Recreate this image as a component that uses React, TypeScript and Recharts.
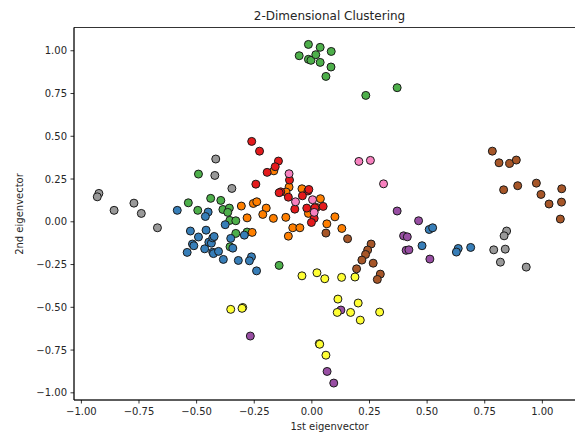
import { ScatterChart, Scatter, XAxis, YAxis, ReferenceArea } from "recharts";

type Pt = [number, number];

const xTicks = [-1, -0.75, -0.5, -0.25, 0, 0.25, 0.5, 0.75, 1];
const yTicks = [-1, -0.75, -0.5, -0.25, 0, 0.25, 0.5, 0.75, 1];
const xDomain: [number, number] = [-1.032, 1.185];
const yDomain: [number, number] = [-1.042, 1.136];

const greenPts: Pt[] = [
  [-0.015, 1.037], [0.036, 1.02], [-0.055, 0.971], [0.084, 0.996], [-0.015, 0.95],
  [-0.004, 0.944], [0.017, 0.977], [0.036, 0.932], [0.083, 0.905], [0.061, 0.85],
  [0.234, 0.739], [0.37, 0.784], [-0.492, 0.279], [-0.439, 0.137], [-0.536, 0.111],
  [-0.395, 0.125], [-0.495, 0.067], [-0.386, 0.072], [-0.358, 0.08], [-0.365, 0.055],
  [-0.356, 0.008], [-0.33, 0.006], [-0.33, -0.068], [-0.281, -0.06], [-0.355, -0.146],
  [-0.142, -0.255],
];

const greyPts: Pt[] = [
  [-0.924, 0.166], [-0.931, 0.146], [-0.858, 0.067], [-0.772, 0.109], [-0.74, 0.049],
  [-0.67, -0.035], [-0.417, 0.367], [-0.421, 0.271], [-0.347, 0.195], [0.845, -0.054],
  [0.834, -0.082], [0.789, -0.164], [0.839, -0.16], [0.818, -0.236], [0.93, -0.265],
];

const bluePts: Pt[] = [
  [-0.584, 0.067], [-0.45, 0.057], [-0.462, 0.031], [-0.527, -0.054], [-0.492, -0.089],
  [-0.459, -0.049], [-0.518, -0.13], [-0.512, -0.14], [-0.541, -0.179], [-0.465, -0.158],
  [-0.447, -0.119], [-0.436, -0.125], [-0.43, -0.094], [-0.424, -0.086], [-0.43, -0.178],
  [-0.427, -0.186], [-0.405, -0.173], [-0.384, -0.22], [-0.319, -0.226], [-0.262, -0.205],
  [-0.271, -0.228], [-0.24, -0.287], [-0.376, -0.017], [-0.352, -0.097], [-0.343, -0.154],
  [-0.293, -0.078], [0.509, -0.045], [0.524, -0.035], [0.478, -0.14], [0.635, -0.156],
  [0.627, -0.177], [0.689, -0.15],
];

const brownPts: Pt[] = [
  [0.783, 0.413], [0.812, 0.345], [0.858, 0.341], [0.887, 0.361], [0.832, 0.187],
  [0.893, 0.211], [0.974, 0.226], [0.994, 0.16], [1.029, 0.104], [1.084, 0.193],
  [1.083, 0.115], [1.078, 0.016], [0.061, -0.066], [0.155, -0.099], [0.257, -0.13],
  [0.242, -0.165], [0.233, -0.191], [0.217, -0.224], [0.194, -0.275], [0.266, -0.242],
  [0.297, -0.306], [0.284, -0.337],
];

const orangePts: Pt[] = [
  [-0.165, 0.298], [-0.099, 0.203], [-0.043, 0.193], [-0.112, 0.174], [0.037, 0.135],
  [0.02, 0.084], [-0.015, 0.049], [-0.254, 0.107], [-0.239, 0.117], [-0.306, 0.092],
  [-0.198, 0.08], [-0.213, 0.043], [-0.281, 0.023], [-0.167, 0.02], [-0.113, 0.026],
  [0.065, -0.012], [0.1, 0.029], [0.13, -0.039], [-0.083, -0.035], [-0.052, -0.035],
  [-0.102, -0.084], [-0.259, -0.062],
];

const redPts: Pt[] = [
  [-0.261, 0.47], [-0.227, 0.413], [-0.145, 0.355], [-0.159, 0.322], [-0.194, 0.289],
  [-0.243, 0.22], [-0.097, 0.244], [-0.135, 0.175], [-0.142, 0.17], [-0.102, 0.144],
  [-0.074, 0.074], [-0.017, 0.18], [-0.013, 0.189], [-0.041, 0.152], [-0.022, 0.08],
  [0.013, 0.082], [0.049, 0.09], [0.01, 0.02], [-0.002, -0.004],
];

const pinkPts: Pt[] = [
  [0.204, 0.353], [0.254, 0.359], [0.311, 0.222], [-0.099, 0.281], [-0.071, 0.117],
  [0.003, 0.129], [0.01, 0.055],
];

const purplePts: Pt[] = [
  [0.37, 0.063], [0.463, 0.006], [0.398, -0.082], [0.414, -0.088], [0.409, -0.167],
  [0.421, -0.164], [0.512, -0.218], [0.126, -0.516], [-0.267, -0.668], [0.066, -0.875],
  [0.095, -0.943],
];

const yellowPts: Pt[] = [
  [-0.043, -0.316], [0.022, -0.298], [0.056, -0.333], [0.129, -0.325], [0.187, -0.323],
  [0.113, -0.452], [0.201, -0.475], [0.11, -0.53], [0.168, -0.53], [0.21, -0.575],
  [0.294, -0.528], [-0.352, -0.512], [-0.3, -0.501], [-0.303, -0.506], [0.032, -0.713],
  [0.034, -0.716], [0.061, -0.78],
];

const clusters = [
  { name: "green", color: "#4daf4a", pts: greenPts },
  { name: "grey", color: "#999999", pts: greyPts },
  { name: "blue", color: "#377eb8", pts: bluePts },
  { name: "brown", color: "#a65628", pts: brownPts },
  { name: "orange", color: "#ff7f00", pts: orangePts },
  { name: "red", color: "#e41a1c", pts: redPts },
  { name: "pink", color: "#f781bf", pts: pinkPts },
  { name: "purple", color: "#984ea3", pts: purplePts },
  { name: "yellow", color: "#ffff33", pts: yellowPts },
];

const font = "'DejaVu Sans', sans-serif";
const textColor = "#262626";
const fmt = (v: number) => (v < 0 ? "\u2212" : "") + Math.abs(v).toFixed(2);

export default function App() {
  return (
    <div
      style={{
        position: "absolute",
        left: 0,
        top: 0,
        width: 575,
        height: 437,
        overflow: "hidden",
        background: "#fff",
        fontFamily: font,
      }}
    >
      <div
        style={{
          position: "absolute",
          left: 74,
          width: 511,
          top: 9,
          textAlign: "center",
          fontSize: 12,
          lineHeight: "14px",
          color: textColor,
        }}
      >
        2-Dimensional Clustering
      </div>
      <ScatterChart
        width={586}
        height={437}
        margin={{ top: 27.5, right: 1, bottom: 0, left: 0 }}
      >
        <XAxis
          type="number"
          dataKey="x"
          domain={xDomain}
          ticks={xTicks}
          allowDataOverflow
          tickFormatter={fmt}
          height={37}
          tickSize={3.5}
          tickMargin={4}
          stroke="#000"
          strokeWidth={0.8}
          tick={{ fontSize: 10, fill: textColor, fontFamily: font }}
        />
        <YAxis
          type="number"
          dataKey="y"
          domain={yDomain}
          ticks={yTicks}
          allowDataOverflow
          tickFormatter={fmt}
          width={74}
          tickSize={3.5}
          tickMargin={3.5}
          stroke="#000"
          strokeWidth={0.8}
          tick={{ fontSize: 10, fill: textColor, fontFamily: font }}
        />
        {clusters.map((c) => (
          <Scatter
            key={c.name}
            name={c.name}
            data={c.pts.map(([x, y]) => ({ x, y }))}
            isAnimationActive={false}
            shape={(p: any) => (
              <circle cx={p.cx} cy={p.cy} r={4} fill={c.color} stroke="#1a1a1a" strokeWidth={1} />
            )}
          />
        ))}
        <ReferenceArea
          x1={xDomain[0]}
          x2={xDomain[1]}
          y1={yDomain[0]}
          y2={yDomain[1]}
          fill="none"
          fillOpacity={0}
          stroke="#000"
          strokeWidth={0.8}
          ifOverflow="visible"
        />
      </ScatterChart>
      <div
        style={{
          position: "absolute",
          left: 74,
          width: 511,
          top: 421,
          textAlign: "center",
          fontSize: 10,
          lineHeight: "12px",
          color: textColor,
        }}
      >
        1st eigenvector
      </div>
      <div
        style={{
          position: "absolute",
          left: 20 - 60,
          top: 214 - 6,
          width: 120,
          textAlign: "center",
          fontSize: 10,
          lineHeight: "12px",
          color: textColor,
          transform: "rotate(-90deg)",
        }}
      >
        2nd eigenvector
      </div>
    </div>
  );
}
